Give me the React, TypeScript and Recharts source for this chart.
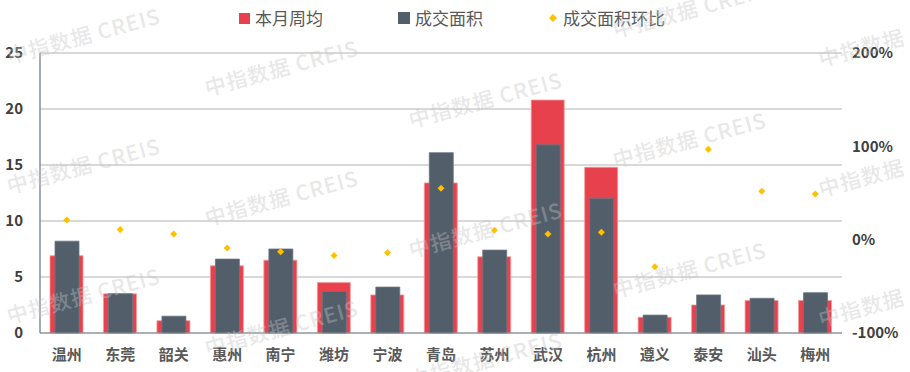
import React from "react";
import { Bar, CartesianGrid, ComposedChart, Scatter, XAxis, YAxis } from "recharts";

const cities = ["温州", "东莞", "韶关", "惠州", "南宁", "潍坊", "宁波", "青岛", "苏州", "武汉", "杭州", "遵义", "泰安", "汕头", "梅州"];
const weeklyAvg = [6.9, 3.5, 1.1, 6.0, 6.5, 4.5, 3.4, 13.4, 6.8, 20.8, 14.8, 1.4, 2.5, 2.9, 2.9];
const dealArea = [8.2, 3.5, 1.5, 6.6, 7.5, 3.7, 4.1, 16.1, 7.4, 16.8, 12.0, 1.6, 3.4, 3.1, 3.6];
const areaChange = [21, 11, 6, -9, -13, -17, -14, 55, 10, 6, 8, -29, 97, 52, 49];

const leftTicks = [0, 5, 10, 15, 20, 25];
const rightTicks = [-100, 0, 100, 200];

const data = cities.map((city, i) => ({
  city,
  weeklyAvg: weeklyAvg[i],
  dealArea: dealArea[i],
  areaChange: areaChange[i],
}));

const RED = "#e8414e";
const SLATE = "#535e6b";
const GOLD = "#ffc000";
const FONT = "'Noto Sans CJK SC', 'Noto Sans', sans-serif";

function Diamond(props: any) {
  const { cx, cy } = props;
  if (cx == null || cy == null) return null;
  const r = 3.5;
  return <polygon points={`${cx},${cy - r} ${cx + r},${cy} ${cx},${cy + r} ${cx - r},${cy}`} fill={GOLD} />;
}

// watermark centres, a column every ~205px, each column stepped down
const marks: { x: number; y: number; label: string }[] = [];
const colX = [84, 282, 486, 690, 862];
const colY0 = [38, 70, 102, 12, 50];
colX.forEach((x, c) => {
  for (let k = 0; k < 3; k++) {
    marks.push({ x, y: colY0[c] + k * 130, label: c === 4 ? "中指数据" : "中指数据 CREIS" });
  }
});

function Legend() {
  const text: React.CSSProperties = { fontSize: 17, color: "#595959", fontFamily: FONT, lineHeight: "20px" };
  return (
    <div style={{ position: "absolute", top: 8, left: 239, display: "flex", alignItems: "center" }}>
      <span style={{ width: 11, height: 11, background: RED, marginRight: 5 }} />
      <span style={{ ...text, marginRight: 75 }}>本月周均</span>
      <span style={{ width: 12, height: 12, background: SLATE, marginRight: 5 }} />
      <span style={{ ...text, marginRight: 66 }}>成交面积</span>
      <svg width={8} height={8} style={{ marginRight: 6 }}>
        <polygon points="4,0 8,4 4,8 0,4" fill={GOLD} />
      </svg>
      <span style={text}>成交面积环比</span>
    </div>
  );
}

export default function App() {
  return (
    <div style={{ position: "absolute", left: 0, top: 0, width: 910, height: 372, background: "#fff", overflow: "hidden" }}>
      <ComposedChart width={910} height={372} data={data} margin={{ top: 53, right: 0, left: 0, bottom: 0 }}>
        <CartesianGrid yAxisId="left" xAxisId="main" vertical={false} stroke="#b3b3b3" strokeWidth={1} />
        <XAxis
          xAxisId="main"
          dataKey="city"
          height={39}
          tickLine={false}
          tickSize={0}
          tickMargin={16}
          axisLine={{ stroke: "#7d8794", strokeWidth: 1.2 }}
          tick={{ fill: "#595959", fontSize: 15, fontWeight: 700, fontFamily: FONT }}
          interval={0}
        />
        <XAxis xAxisId="over" dataKey="city" hide />
        <YAxis
          yAxisId="left"
          orientation="left"
          width={40}
          domain={[0, 25]}
          ticks={leftTicks}
          tickLine={false}
          tickSize={0}
          tickMargin={17}
          axisLine={{ stroke: "#6b7480", strokeWidth: 1.2 }}
          tick={{ fill: "#404040", fontSize: 15, fontWeight: 700, fontFamily: FONT }}
        />
        <YAxis
          yAxisId="right"
          orientation="right"
          width={68}
          domain={[-100, 200]}
          ticks={rightTicks}
          tickLine={false}
          tickSize={0}
          tickMargin={10}
          axisLine={false}
          tickFormatter={(v) => `${v}%`}
          tick={{ fill: "#404040", fontSize: 15, fontWeight: 700, fontFamily: FONT }}
        />
        <Bar xAxisId="main" yAxisId="left" dataKey="weeklyAvg" fill={RED} stroke="#f39a9a" strokeWidth={0.8} barSize={33} isAnimationActive={false} />
        <Bar xAxisId="over" yAxisId="left" dataKey="dealArea" fill={SLATE} stroke="#6c7783" strokeWidth={0.8} barSize={24} isAnimationActive={false} />
        <Scatter xAxisId="main" yAxisId="right" dataKey="areaChange" shape={<Diamond />} isAnimationActive={false} />
      </ComposedChart>
      <Legend />
      <svg width={910} height={372} style={{ position: "absolute", left: 0, top: 0, pointerEvents: "none" }}>
        {marks.map((m, i) => (
          <text
            key={i}
            x={m.x}
            y={m.y}
            textAnchor="middle"
            dominantBaseline="middle"
            transform={`rotate(-15 ${m.x} ${m.y})`}
            fill="#c4c4c4"
            fillOpacity={0.4}
            fontSize={21}
            fontWeight={500}
            letterSpacing={1}
            fontFamily={FONT}
          >
            {m.label}
          </text>
        ))}
      </svg>
    </div>
  );
}
